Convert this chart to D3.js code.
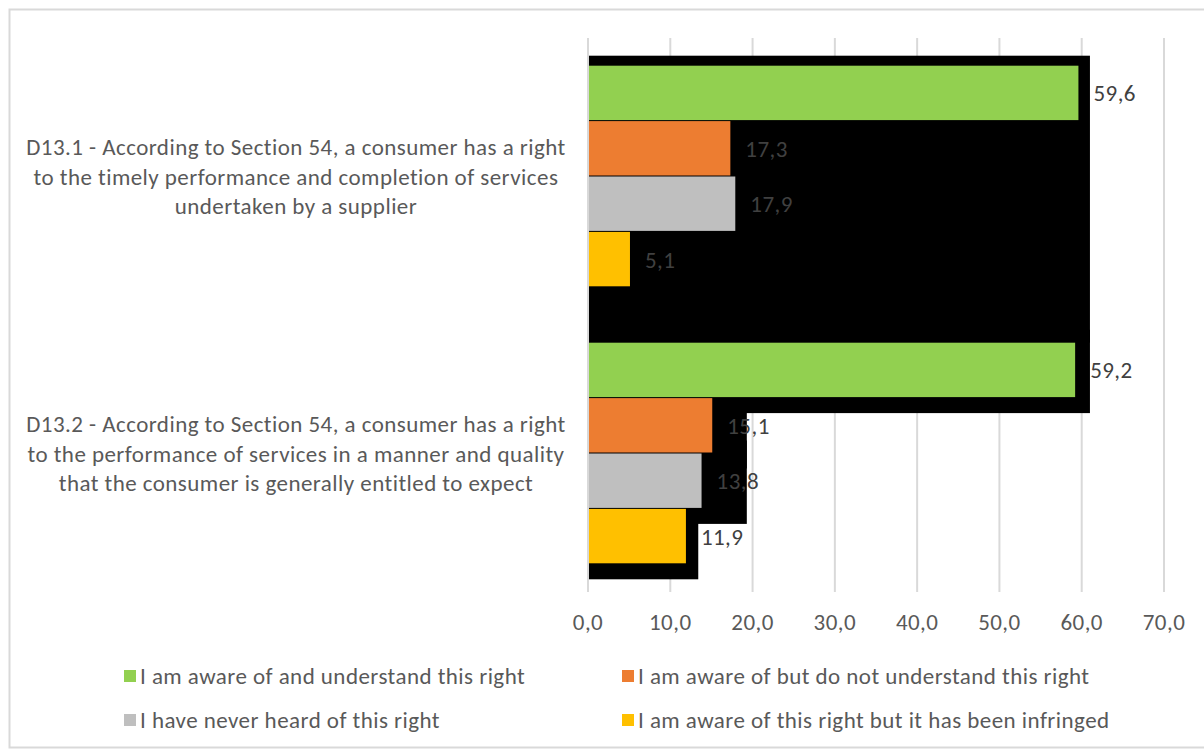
<!DOCTYPE html>
<html>
<head>
<meta charset="utf-8">
<script src="https://cdn.jsdelivr.net/npm/d3@7"></script>
<style>
  html, body { margin: 0; padding: 0; background: #fff; }
  svg { display: block; }
</style>
</head>
<body>
<svg id="chart" width="1204" height="749"></svg>
<script>
// Survey questions (y categories), drawn top to bottom
const questions = [
  ["D13.1 - According to Section 54, a consumer has a right",
   "to the timely performance and completion of services",
   "undertaken by a supplier"],
  ["D13.2 - According to Section 54, a consumer has a right",
   "to the performance of services in a manner and quality",
   "that the consumer is generally entitled to expect"]
];
const questionIds = ["D13.1", "D13.2"];

// Answer series
const seriesNames = [
  "I am aware of and understand this right",
  "I am aware of but do not understand this right",
  "I have never heard of this right",
  "I am aware of this right but it has been infringed"
];
const seriesColors = ["#92d050", "#ed7d31", "#bfbfbf", "#ffc000"];

// Percentages per series, one value per question
const aware      = [59.6, 59.2];
const notUnder   = [17.3, 15.1];
const neverHeard = [17.9, 13.8];
const infringed  = [5.1, 11.9];

// Reach of the dark backdrop behind each bar (axis units)
const backdropD131 = [61.0, 61.0, 61.0, 61.0];
const backdropD132 = [61.0, 19.3, 19.3, 13.4];

const xTicks = [0, 10, 20, 30, 40, 50, 60, 70];

const values = [aware, notUnder, neverHeard, infringed];
const backdrops = [backdropD131, backdropD132];

const svg = d3.select("#chart");
const font = "Carlito, Calibri, Lato, 'Open Sans', sans-serif";
const fontSize = 23;
const spacing = "0.45px";
const textColor = "#595959";

// chart frame
svg.append("rect")
  .attr("x", 9.5).attr("y", 9.5)
  .attr("width", 1204).attr("height", 738)
  .attr("fill", "#fff").attr("stroke", "#d9d9d9").attr("stroke-width", 2);

const plot = { left: 588, right: 1164, top: 38, bottom: 592 };

const x = d3.scaleLinear().domain([0, 70]).range([plot.left, plot.right]);
const y0 = d3.scaleBand().domain(questionIds).range([plot.top, plot.bottom])
  .paddingInner(0.2).paddingOuter(0.1);
const y1 = d3.scaleBand().domain(d3.range(seriesNames.length))
  .range([0, y0.bandwidth()]).padding(0);

// gridlines
svg.append("g").selectAll("line").data(xTicks).join("line")
  .attr("x1", d => x(d)).attr("x2", d => x(d))
  .attr("y1", plot.top).attr("y2", plot.bottom)
  .attr("stroke", "#d9d9d9").attr("stroke-width", 2);

// dark backdrop behind the bars
const backdrop = svg.append("g");
questionIds.forEach((q, qi) => {
  const top = y0(q);
  const reach = backdrops[qi];
  if (qi === 0) {
    // first question: one block spanning the band down to the next group
    backdrop.append("rect")
      .attr("x", x(0) + 1)
      .attr("y", top - 10)
      .attr("width", x(d3.max(reach)) - x(0) - 1)
      .attr("height", y0(questionIds[1]) - top + 10)
      .attr("fill", "#000");
  } else {
    reach.forEach((r, si) => {
      backdrop.append("rect")
        .attr("x", x(0) + 1)
        .attr("y", top + y1(si) - 13)
        .attr("width", x(r) - x(0) - 1)
        .attr("height", y1.bandwidth() + 28)
        .attr("fill", "#000");
    });
  }
});

// bars
const groups = svg.append("g").selectAll("g").data(questionIds).join("g")
  .attr("transform", d => `translate(0,${y0(d)})`);

groups.each(function(q, qi) {
  const g = d3.select(this);
  const rows = values.map((arr, si) => ({ si, v: arr[qi] }));
  g.selectAll("rect").data(rows).join("rect")
    .attr("x", x(0) + 1)
    .attr("y", d => y1(d.si))
    .attr("width", d => x(d.v) - x(0) - 1)
    .attr("height", y1.bandwidth() - 1)
    .attr("fill", d => seriesColors[d.si]);
  g.selectAll("text").data(rows).join("text")
    .attr("x", d => x(d.v) + 15)
    .attr("y", d => y1(d.si) + y1.bandwidth() / 2)
    .attr("dy", "0.35em")
    .attr("font-family", font).attr("font-size", fontSize)
    .attr("letter-spacing", spacing)
    .attr("fill", "#404040")
    .text(d => d.v.toFixed(1).replace(".", ","));
});

// x axis labels
svg.append("g").selectAll("text").data(xTicks).join("text")
  .attr("x", d => x(d)).attr("y", 622)
  .attr("dy", "0.35em")
  .attr("text-anchor", "middle")
  .attr("font-family", font).attr("font-size", fontSize)
  .attr("letter-spacing", spacing)
  .attr("fill", textColor)
  .text(d => d.toFixed(1).replace(".", ","));

// question labels
questionIds.forEach((q, qi) => {
  const cy = y0(q) + y0.bandwidth() / 2;
  const t = svg.append("text")
    .attr("text-anchor", "middle")
    .attr("font-family", font).attr("font-size", fontSize)
    .attr("letter-spacing", spacing)
    .attr("fill", textColor);
  questions[qi].forEach((line, li) => {
    t.append("tspan").attr("x", 296)
      .attr("y", cy + (li - 1) * 29.5)
      .attr("dy", "0.35em")
      .text(line);
  });
});

// legend
const legendPos = [[124, 676], [622, 676], [124, 720], [622, 720]];
const legend = svg.append("g").selectAll("g").data(seriesNames).join("g")
  .attr("transform", (d, i) => `translate(${legendPos[i][0]},${legendPos[i][1]})`);
legend.append("rect")
  .attr("x", 0).attr("y", -6).attr("width", 12).attr("height", 12)
  .attr("fill", (d, i) => seriesColors[i]);
legend.append("text")
  .attr("x", 16).attr("dy", "0.35em")
  .attr("font-family", font).attr("font-size", fontSize)
  .attr("letter-spacing", spacing)
  .attr("fill", textColor)
  .text(d => d);
</script>
</body>
</html>
